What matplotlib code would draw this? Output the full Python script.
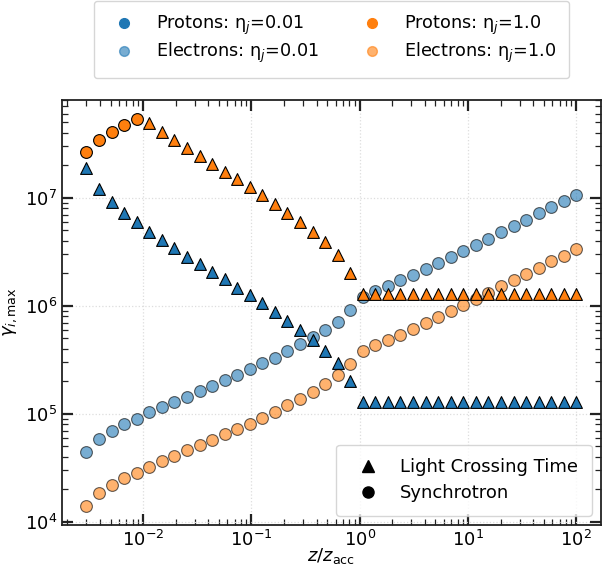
"""
Maximum Lorentz factor of protons and electrons along the jet.
"""

import matplotlib
matplotlib.use("Agg")
import matplotlib.pyplot as plt
from matplotlib.lines import Line2D
import numpy as np

# distance along the jet, z / z_acc
z = [
    0.00300, 0.003918, 0.005118, 0.006683, 0.008730, 0.01140, 0.01489, 0.01945,
    0.02541, 0.03318, 0.04334, 0.05659, 0.07392, 0.09654, 0.1261, 0.1647,
    0.2152, 0.2810, 0.3670, 0.4793, 0.6259, 0.8175, 1.068, 1.395,
    1.822, 2.379, 3.107, 4.058, 5.300, 6.923, 9.045, 11.81,
    15.43, 20.15, 26.31, 34.37, 44.89, 58.63, 76.56, 100.0,
]

# gamma_max, protons, eta_j = 0.01
p_eta001 = [
    1.871e7, 1.197e7, 9.06e6, 7.18e6, 5.92e6, 4.84e6, 4.06e6, 3.40e6,
    2.84e6, 2.44e6, 2.07e6, 1.76e6, 1.47e6, 1.25e6, 1.054e6, 8.81e5,
    7.28e5, 5.97e5, 4.83e5, 3.82e5, 2.94e5, 2.01e5, 1.30e5, 1.30e5,
    1.30e5, 1.30e5, 1.30e5, 1.30e5, 1.30e5, 1.30e5, 1.30e5, 1.30e5,
    1.30e5, 1.30e5, 1.30e5, 1.30e5, 1.30e5, 1.30e5, 1.30e5, 1.30e5,
]

# gamma_max, protons, eta_j = 1.0
p_eta1 = [
    2.63e7, 3.42e7, 4.06e7, 4.68e7, 5.35e7, 4.88e7, 4.06e7, 3.42e7,
    2.86e7, 2.43e7, 2.05e7, 1.74e7, 1.48e7, 1.25e7, 1.052e7, 8.79e6,
    7.26e6, 6.00e6, 4.84e6, 3.86e6, 2.95e6, 2.02e6, 1.285e6, 1.285e6,
    1.285e6, 1.285e6, 1.285e6, 1.285e6, 1.285e6, 1.285e6, 1.285e6, 1.285e6,
    1.285e6, 1.285e6, 1.285e6, 1.285e6, 1.285e6, 1.285e6, 1.285e6, 1.285e6,
]

# gamma_max, electrons, eta_j = 0.01 (synchrotron limited)
e_eta001 = [
    4.47e4, 5.82e4, 6.90e4, 8.02e4, 9.04e4, 1.035e5, 1.151e5, 1.297e5,
    1.442e5, 1.629e5, 1.820e5, 2.061e5, 2.275e5, 2.588e5, 2.938e5, 3.311e5,
    3.793e5, 4.406e5, 5.117e5, 5.970e5, 7.129e5, 9.141e5, 1.213e6, 1.371e6,
    1.524e6, 1.734e6, 1.941e6, 2.188e6, 2.506e6, 2.812e6, 3.251e6, 3.673e6,
    4.178e6, 4.786e6, 5.470e6, 6.223e6, 7.178e6, 8.204e6, 9.268e6, 1.059e7,
]

# gamma_max, electrons, eta_j = 1.0 (synchrotron limited)
e_eta1 = [
    1.416e4, 1.841e4, 2.183e4, 2.535e4, 2.858e4, 3.251e4, 3.664e4, 4.102e4,
    4.603e4, 5.129e4, 5.741e4, 6.471e4, 7.211e4, 8.110e4, 9.226e4, 1.042e5,
    1.202e5, 1.374e5, 1.603e5, 1.879e5, 2.275e5, 2.897e5, 3.846e5, 4.315e5,
    4.831e5, 5.408e5, 6.138e5, 6.982e5, 7.925e5, 9.016e5, 1.021e6, 1.156e6,
    1.321e6, 1.514e6, 1.742e6, 1.968e6, 2.239e6, 2.594e6, 2.904e6, 3.334e6,
]

# limiting process of protons: "S" synchrotron, "L" light crossing time
p_eta001_limit = ["L"] * 40
p_eta1_limit = ["S"] * 5 + ["L"] * 35

BLUE = "#1f77b4"
ORANGE = "#ff7f0e"
MS = 72


def plot_series(ax, x, y, limits, color, alpha):
    x = np.asarray(x)
    y = np.asarray(y)
    limits = np.asarray(limits)
    for lim, mk in (("S", "o"), ("L", "^")):
        sel = limits == lim
        if sel.any():
            ax.scatter(x[sel], y[sel], s=MS, marker=mk, color=color,
                       edgecolors="black", linewidths=0.8, alpha=alpha, zorder=3)


fig = plt.figure(figsize=(6.02, 5.70), dpi=100)
ax = fig.add_axes([0.103, 0.079, 0.895, 0.746])

plot_series(ax, z, e_eta001, ["S"] * 40, BLUE, 0.6)
plot_series(ax, z, e_eta1, ["S"] * 40, ORANGE, 0.6)
plot_series(ax, z, p_eta001, p_eta001_limit, BLUE, 1.0)
plot_series(ax, z, p_eta1, p_eta1_limit, ORANGE, 1.0)

ax.set_xscale("log")
ax.set_yscale("log")
ax.set_xlabel(r"$z/z_{\rm acc}$", fontsize=13, labelpad=-3)
ax.set_ylabel(r"$\gamma_{i,\rm max}$", fontsize=13, labelpad=4)

ax.grid(True, which="major", color="#dddddd", linestyle=":", linewidth=0.9)
ax.set_axisbelow(True)
ax.tick_params(which="both", direction="in", top=True, right=True, labelsize=13)
ax.tick_params(which="major", length=8, width=1.6, color="#222222")
ax.tick_params(which="minor", length=4, width=0.9, color="#222222")
for sp in ax.spines.values():
    sp.set_linewidth(1.3)
    sp.set_color("#222222")

# legend for species / eta_j
species_handles = [
    Line2D([], [], marker="o", linestyle="", markersize=7, color=BLUE),
    Line2D([], [], marker="o", linestyle="", markersize=7, color=BLUE, alpha=0.6),
    Line2D([], [], marker="o", linestyle="", markersize=7, color=ORANGE),
    Line2D([], [], marker="o", linestyle="", markersize=7, color=ORANGE, alpha=0.6),
]
species_labels = [
    "Protons: η$_j$=0.01",
    "Electrons: η$_j$=0.01",
    "Protons: η$_j$=1.0",
    "Electrons: η$_j$=1.0",
]
leg1 = ax.legend(species_handles, species_labels, ncol=2, fontsize=12.7,
                 loc="lower center", bbox_to_anchor=(0.5, 1.03),
                 borderpad=0.75, labelspacing=0.2)
ax.add_artist(leg1)

# legend for limiting process
proc_handles = [
    Line2D([], [], marker="^", linestyle="", markersize=8, color="black"),
    Line2D([], [], marker="o", linestyle="", markersize=8, color="black"),
]
ax.legend(proc_handles, ["Light Crossing Time", "Synchrotron"], fontsize=13,
          loc="lower right", borderpad=0.75, labelspacing=0.45)

fig.savefig("out.png", dpi=100)
